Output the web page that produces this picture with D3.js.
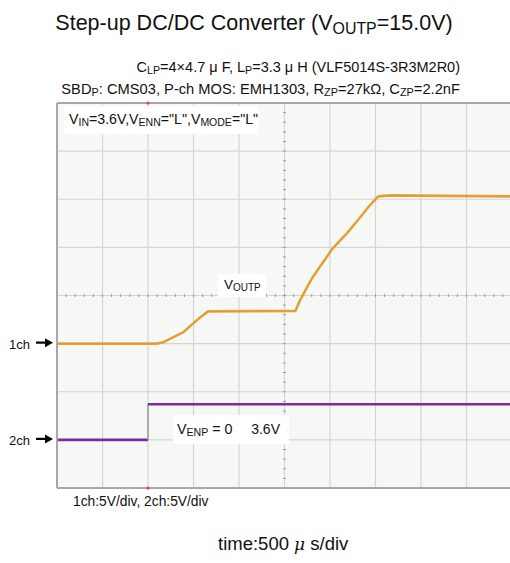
<!DOCTYPE html>
<html><head><meta charset="utf-8">
<script src="https://cdn.jsdelivr.net/npm/d3@7"></script>
<style>body{margin:0;background:#fff}svg{display:block;font-family:"Liberation Sans",Arial,sans-serif}</style>
</head><body><svg id="c" width="510" height="563"></svg>
<script>
// time in microseconds, voltage in volts
const ch1Time = [0,1100,1170,1390,1570,1660,2620,2670,2750,2810,2920,3030,3190,3330,3440,3530,3660,5000];
const ch1Volt = [0,0,0.15,1.2,2.7,3.35,3.4,4.5,5.9,6.9,8.4,9.9,11.5,13.1,14.4,15.3,15.4,15.3];
const ch2Time = [0,1000,1000,5000];
const ch2Volt = [0,0,3.7,3.7];
const timeDivs = [0,1,2,3,4,5,6,7,8,9,10];
const voltDivs = [-4,-3,-2,-1,0,1,2,3,4];
const usPerDiv = 500, voltsPerDiv = 5;
const ch1OffsetDiv = -1, ch2OffsetDiv = -3;
const triggerTime = 1000;

const svg = d3.select("#c");
const L=57, R=512, T=103, B=488;
const x = d3.scaleLinear().domain([0, 10*usPerDiv]).range([L,R]);
const yDiv = d3.scaleLinear().domain([-4,4]).range([B,T]);

svg.append("clipPath").attr("id","clip").append("rect").attr("x",L).attr("y",T).attr("width",R-L).attr("height",B-T);
svg.append("rect").attr("x",L).attr("y",T).attr("width",R-L).attr("height",B-T).attr("fill","#f6f8f6");

const g = svg.append("g").attr("clip-path","url(#clip)");
// grid
g.selectAll(".vg").data(timeDivs).join("line").attr("x1",d=>x(d*usPerDiv)).attr("x2",d=>x(d*usPerDiv))
  .attr("y1",T).attr("y2",B).attr("stroke","#d3d6d3").attr("stroke-width",1.2);
g.selectAll(".hg").data(voltDivs).join("line").attr("y1",d=>yDiv(d)).attr("y2",d=>yDiv(d))
  .attr("x1",L).attr("x2",R).attr("stroke","#d3d6d3").attr("stroke-width",1.2);
// minor ticks on center lines
const cx = x(5*usPerDiv), cy = yDiv(0);
const minorV = d3.range(-4,4.01,0.2);
g.selectAll(".mv").data(minorV).join("line").attr("x1",cx-1.5).attr("x2",cx+1.5)
  .attr("y1",d=>yDiv(d)).attr("y2",d=>yDiv(d)).attr("stroke","#9a9a9a").attr("stroke-width",1);
const minorT = d3.range(0,10.01,0.2);
g.selectAll(".mt").data(minorT).join("line").attr("y1",cy-1.5).attr("y2",cy+1.5)
  .attr("x1",d=>x(d*usPerDiv)).attr("x2",d=>x(d*usPerDiv)).attr("stroke","#9a9a9a").attr("stroke-width",1);

// traces
const ch1 = ch1Time.map((t,i)=>({t, v:ch1Volt[i]}));
const ch2 = ch2Time.map((t,i)=>({t, v:ch2Volt[i]}));
const line1 = d3.line().x(d=>x(d.t)).y(d=>yDiv(ch1OffsetDiv + d.v/voltsPerDiv));
g.append("path").datum(ch1).attr("d",line1).attr("fill","none").attr("stroke","#e8a53a").attr("stroke-width",2.6).attr("stroke-linejoin","round");
g.append("path").datum(ch1).attr("d",line1).attr("fill","none").attr("stroke","#c98a2a").attr("stroke-width",0.8).attr("opacity",0.5);
// ch2: horizontal segments purple, step edge thin gray
const segs = [];
for (let i=0;i<ch2.length-1;i++) segs.push([ch2[i],ch2[i+1]]);
g.selectAll(".c2").data(segs).join("line")
  .attr("x1",d=>x(d[0].t)).attr("x2",d=>x(d[1].t))
  .attr("y1",d=>yDiv(ch2OffsetDiv+d[0].v/voltsPerDiv)).attr("y2",d=>yDiv(ch2OffsetDiv+d[1].v/voltsPerDiv))
  .attr("stroke",d=>d[0].t===d[1].t?"#8a8a8a":"#7d2a9e")
  .attr("stroke-width",d=>d[0].t===d[1].t?1.2:2.6);

// border
svg.append("line").attr("x1",L).attr("x2",R).attr("y1",T).attr("y2",T).attr("stroke","#a8a8a8").attr("stroke-width",2);
svg.append("line").attr("x1",L).attr("x2",R).attr("y1",B).attr("y2",B).attr("stroke","#a8a8a8").attr("stroke-width",2);
svg.append("line").attr("x1",L).attr("x2",L).attr("y1",T).attr("y2",B).attr("stroke","#a8a8a8").attr("stroke-width",2);
// trigger markers
[T,B].forEach(yy=>svg.append("circle").attr("cx",x(triggerTime)).attr("cy",yy).attr("r",1.6).attr("fill","#e04040"));

// helper for text with subscripts
function rich(sel, parts, size){
  parts.forEach(([s,sub])=>{
    sel.append("tspan").text(s)
      .attr("font-size", sub? size*0.74 : size)
      .attr("baseline-shift", sub? "-22%" : null);
  });
  return sel;
}

// titles
rich(svg.append("text").attr("x",254).attr("y",30).attr("text-anchor","middle").attr("fill","#111"),
  [["Step-up DC/DC Converter (V",0],["OUTP",1],["=15.0V)",0]], 21.5);
rich(svg.append("text").attr("x",460).attr("y",72).attr("text-anchor","end").attr("fill","#111"),
  [["C",0],["LP",1],["=4×4.7 μ F, L",0],["P",1],["=3.3 μ H (VLF5014S-3R3M2R0)",0]], 14.5);
rich(svg.append("text").attr("x",460).attr("y",94).attr("text-anchor","end").attr("fill","#111"),
  [["SBD",0],["P",1],[": CMS03, P-ch MOS: EMH1303, R",0],["ZP",1],["=27kΩ, C",0],["ZP",1],["=2.2nF",0]], 14.7);

// in-plot labels
svg.append("rect").attr("x",64).attr("y",106).attr("width",195).attr("height",28).attr("fill","#fff");
rich(svg.append("text").attr("x",69).attr("y",124).attr("fill","#111"),
  [["V",0],["IN",1],["=3.6V,V",0],["ENN",1],["=\"L\",V",0],["MODE",1],["=\"L\"",0]], 14.2);
svg.append("rect").attr("x",218).attr("y",274).attr("width",48).attr("height",23).attr("fill","#fff");
rich(svg.append("text").attr("x",224).attr("y",289).attr("fill","#111"),
  [["V",0],["OUTP",1]], 13.5);
svg.append("rect").attr("x",173).attr("y",415).attr("width",116).attr("height",29).attr("fill","#fff");
rich(svg.append("text").attr("x",177).attr("y",434).attr("fill","#111"),
  [["V",0],["ENP",1],[" = 0",0]], 14.3);
svg.append("text").attr("x",280).attr("y",434).attr("text-anchor","end").attr("font-size",14).attr("fill","#111").text("3.6V");

// channel markers
const chLab = [{n:"1ch", off:ch1OffsetDiv},{n:"2ch", off:ch2OffsetDiv}];
chLab.forEach(c=>{
  const yy = yDiv(c.off);
  svg.append("text").attr("x",9).attr("y",yy+5).attr("font-size",13).attr("fill","#111").text(c.n);
  svg.append("line").attr("x1",36).attr("x2",46).attr("y1",yy-1).attr("y2",yy-1).attr("stroke","#000").attr("stroke-width",2.2);
  svg.append("path").attr("d",`M${45},${yy-5.5} L${53},${yy-1} L${45},${yy+3.5} Z`).attr("fill","#000");
});

svg.append("text").attr("x",73).attr("y",506).attr("font-size",13.8).attr("fill","#111").text("1ch:5V/div, 2ch:5V/div");
const tt = svg.append("text").attr("x",218).attr("y",550).attr("font-size",18.5).attr("fill","#111");
tt.append("tspan").text("time:500 ");
tt.append("tspan").text("μ").attr("font-style","italic").attr("font-family","'DejaVu Serif',serif").attr("font-size",17);
tt.append("tspan").text(" s/div");
</script></body></html>
